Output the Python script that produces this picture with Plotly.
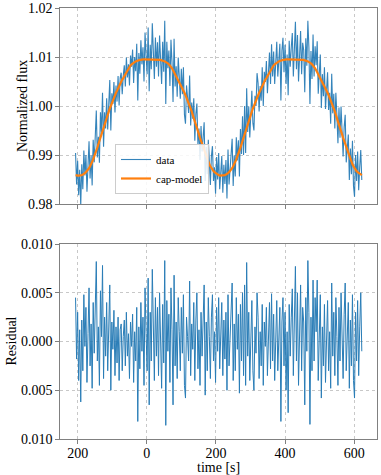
import numpy as np
import plotly.graph_objects as go

# ---- data ----
T0 = -206          # first sample time [s]
DT = 3             # sampling step [s]

# cap-model, in units of 1e-4 relative to 1.0
MODEL_E4 = [
    -141, -142, -142,
    -142, -142, -142, -141, -140, -139, -137, -135, -133, -130,
    -127, -123, -119, -114, -109, -103, -98, -91, -85, -78,
    -71, -65, -58, -51, -45, -38, -31, -24, -18, -11,
    -5, 0, 6, 12, 17, 22, 27, 31, 36, 41,
    45, 50, 54, 57, 61, 65, 69, 73, 77, 80,
    83, 85, 87, 89, 90, 91, 92, 93, 93, 94,
    94, 95, 95, 95, 95, 95, 95, 95, 95, 95,
    95, 95, 95, 95, 95, 95, 95, 95, 94,
    94, 93, 93, 92, 91, 90, 89, 87, 85, 83,
    80, 77, 73, 69, 65, 61, 57, 54, 50, 45,
    41, 36, 31, 27, 22, 17, 12, 6, 0, -5,
    -11, -18, -24, -31, -38, -45, -51, -58, -65, -71,
    -78, -85, -91, -98, -103, -109, -114, -119, -123, -127,
    -130, -133, -135, -137, -139, -140, -141, -142, -142, -142,
    -142, -142, -141, -140, -139, -137, -135, -133, -130,
    -127, -123, -119, -114, -109, -103, -98, -91, -85, -78,
    -71, -65, -58, -51, -45, -38, -31, -24, -18, -11,
    -5, 0, 6, 12, 17, 22, 27, 31, 36, 41,
    45, 50, 54, 57, 61, 65, 69, 73, 77, 80,
    83, 85, 87, 89, 90, 91, 92, 93, 93, 94,
    94, 95, 95, 95, 95, 95, 95, 95, 95, 95,
    95, 95, 95, 95, 95, 95, 95, 95, 94,
    94, 93, 93, 92, 91, 90, 89, 87, 85, 83,
    80, 77, 73, 69, 65, 61, 57, 54, 50, 45,
    41, 36, 31, 27, 22, 17, 12, 6, 0, -5,
    -11, -18, -24, -31, -38, -45, -51, -58, -65, -71,
    -78, -85, -91, -98, -103, -109, -114, -119, -123, -127,
    -130, -133, -135, -137, -139, -140, -141,
]

# residual (data - model), in units of 1e-4
RESID_E4 = [
    45, -18, 30, -40, 12, -62, 22, -30, 48, -5,
    35, -42, 8, 55, -25, 18, -48, 40, -12, 28,
    82, -20, 15, -45, 52, 5, 78, -38, 25, -15,
    40, -30, 10, 58, -50, 20, -8, 32, -35, 15,
    -22, 25, -40, 12, 18, -30, 5, 22, -25, 30,
    -15, 8, -38, 20, -5, 28, -42, 10, -20, 35,
    -82, 15, -28, 40, -10, 25, -45, 55, 8, -30,
    65, -65, 30, -20, 74, 10, -40, 45, -15, 35,
    -35, 50, 5, -48, 38, -22, 83, -86, 42, -10,
    28, -42, 55, 12, -65, 68, -25, 20, -38, 45,
    10, -30, 35, -12, 48, -45, -58, 25, 5, -20,
    62, -35, 18, -8, 40, -40, 22, 50, -28, 12,
    -45, 30, -15, 38, 58, -55, 20, -30, 45, 5,
    -38, 25, 48, -20, 10, -42, 35, -10, 45, -28,
    15, 40, -35, 22, -18, 30, -50, 48, -25, 10,
    35, 60, -40, 18, -30, 45, -8, 28, -53, 38,
    -20, 50, -35, 58, -45, 81, -15, 30, -40, 20,
    42, -30, -50, 15, -12, 50, 25, -38, 10, -25,
    38, -45, 20, -5, 35, -35, 12, 40, -28, 49,
    -20, 28, -40, 15, 42, -30, 5, 35, -82, 20,
    45, -25, 30, -50, 10, -73, 38, -15, 25, 54,
    -35, 40, 77, -20, 50, -45, 15, 58, -30, 35,
    20, -65, 45, -10, 83, 30, -85, 25, -30, 63,
    -20, 45, 10, 63, -40, 22, 48, -58, 15, -25,
    38, -42, 20, 42, -30, 10, -48, 60, -15, 30,
    -35, 45, 5, -45, 35, -20, 50, -10, -38, 28,
    60, -30, 15, 40, -48, 22, -25, 48, -40, -58,
    30, -20, 42, -35, 15, 50, -10,
]

X_TICKS = [-200, 0, 200, 400, 600]
X_TICK_TEXT = ["200", "0", "200", "400", "600"]
Y1_TICKS = [0.98, 0.99, 1.00, 1.01, 1.02]
Y1_TICK_TEXT = ["0.98", "0.99", "1.00", "1.01", "1.02"]
Y2_TICKS = [-0.010, -0.005, 0.0, 0.005, 0.010]
Y2_TICK_TEXT = ["0.010", "0.005", "0.000", "0.005", "0.010"]

# ---- derived series ----
n = min(len(MODEL_E4), len(RESID_E4))
t = T0 + DT * np.arange(n)
model = 1.0 + np.array(MODEL_E4[:n]) * 1e-4
resid = np.array(RESID_E4[:n]) * 1e-4
flux = model + resid

FONT = "Liberation Serif"
BLUE = "#1f77b4"
ORANGE = "#ff7f0e"

W, H = 381, 475
ML, MR, MT, MB = 60, 4, 8, 36
PW, PH = W - ML - MR, H - MT - MB


def px_x(x):  # pixel -> paper x
    return (x - ML) / PW


def px_y(y):  # pixel -> paper y
    return (H - MB - y) / PH


fig = go.Figure()
fig.add_trace(go.Scatter(x=t, y=flux, mode="lines", name="data",
                         line=dict(color=BLUE, width=1.1), opacity=0.9,
                         xaxis="x", yaxis="y"))
fig.add_trace(go.Scatter(x=t, y=model, mode="lines", name="cap-model",
                         line=dict(color=ORANGE, width=2.2),
                         xaxis="x", yaxis="y"))
fig.add_trace(go.Scatter(x=t, y=resid, mode="lines", showlegend=False,
                         line=dict(color=BLUE, width=1), opacity=0.95,
                         xaxis="x2", yaxis="y2"))

axis_common = dict(
    showline=True, mirror=True, linecolor="#808080", linewidth=1.3,
    ticks="outside", ticklen=3.5, tickwidth=1, tickcolor="#808080",
    showgrid=True, gridcolor="#c8c8c8", griddash="dot", gridwidth=1,
    zeroline=False, automargin=False,
    tickfont=dict(family=FONT, size=14, color="black"),
)

XR = [-251, 666]
top_dom = [px_y(204), 1.0]
bot_dom = [0.0, px_y(244)]

title_font = dict(family=FONT, size=14, color="black")
annotations = [
    dict(text="Normalized flux", x=px_x(22), y=px_y(106), xref="paper", yref="paper",
         textangle=-90, showarrow=False, xanchor="center", yanchor="middle",
         font=title_font),
    dict(text="Residual", x=px_x(11), y=px_y(341.5), xref="paper", yref="paper",
         textangle=-90, showarrow=False, xanchor="center", yanchor="middle",
         font=title_font),
    dict(text="time [s]", x=0.5, y=px_y(467), xref="paper", yref="paper",
         showarrow=False, xanchor="center", yanchor="middle", font=title_font),
]

fig.update_layout(
    width=W, height=H,
    margin=dict(l=ML, r=MR, t=MT, b=MB),
    paper_bgcolor="white", plot_bgcolor="white",
    font=dict(family=FONT, size=14, color="black"),
    xaxis=dict(axis_common, domain=[0, 1], range=XR, anchor="y",
               tickvals=X_TICKS, ticktext=X_TICK_TEXT, showticklabels=False),
    yaxis=dict(axis_common, domain=top_dom, range=[0.98, 1.02], anchor="x",
               tickvals=Y1_TICKS, ticktext=Y1_TICK_TEXT),
    xaxis2=dict(axis_common, domain=[0, 1], range=XR, anchor="y2",
                tickvals=X_TICKS, ticktext=X_TICK_TEXT, ticklabelstandoff=-2),
    yaxis2=dict(axis_common, domain=bot_dom, range=[-0.010, 0.010], anchor="x2",
                tickvals=Y2_TICKS, ticktext=Y2_TICK_TEXT),
    legend=dict(x=px_x(115), y=px_y(144), xanchor="left", yanchor="top",
                bgcolor="rgba(255,255,255,0.85)", bordercolor="#cccccc",
                borderwidth=1, font=dict(family=FONT, size=11, color="black"),
                tracegroupgap=0, itemwidth=30),
    annotations=annotations,
    showlegend=True,
)

fig.write_html("out.html",
               config={"displayModeBar": False},
               post_script="document.body.style.margin='0';document.body.style.padding='0';")
